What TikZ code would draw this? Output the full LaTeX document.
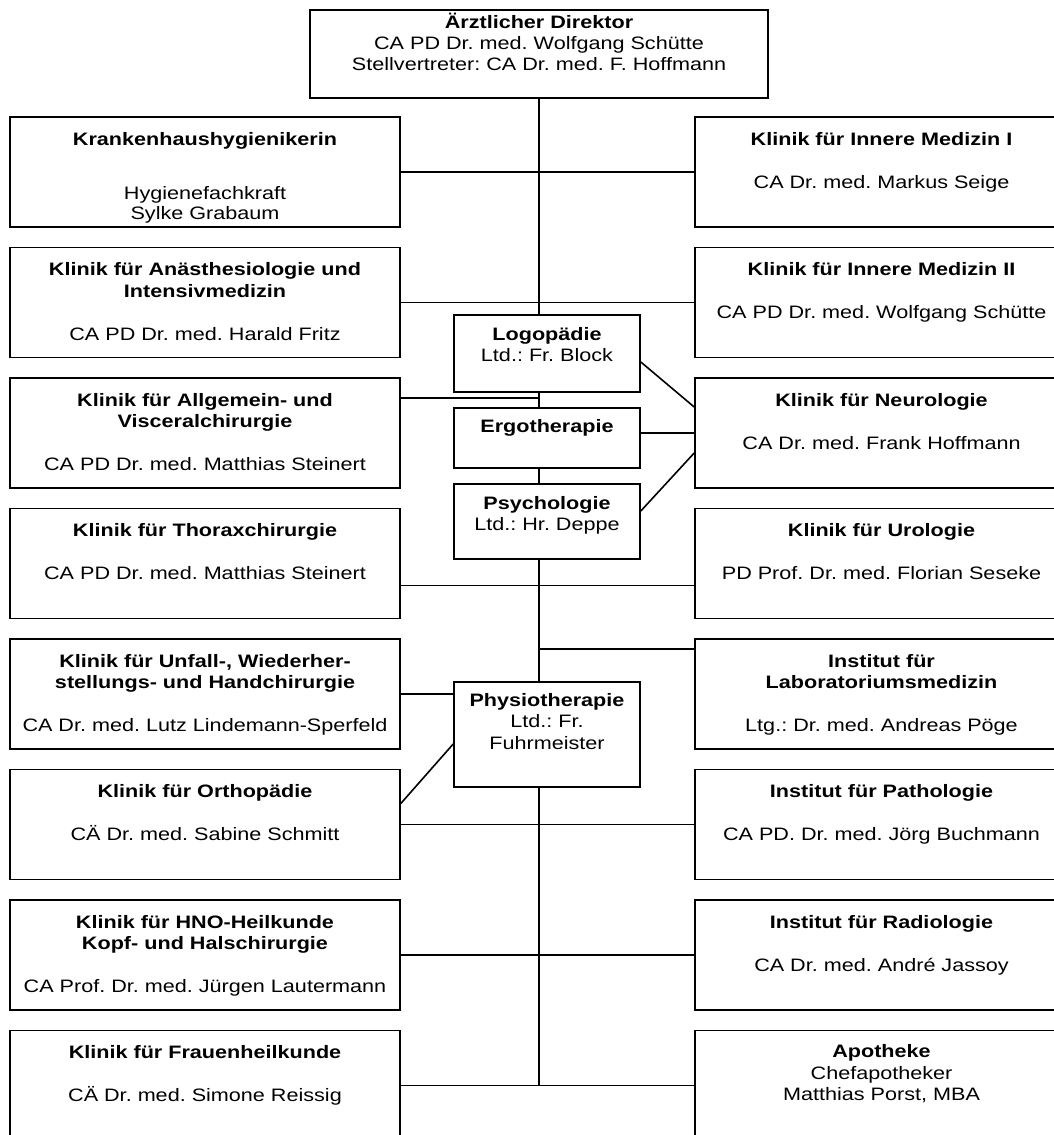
\documentclass[tikz,border=0pt]{standalone}
\usepackage{fontspec}
\setmainfont{Liberation Sans}[FakeStretch=1.2]
\usetikzlibrary{backgrounds}
\frenchspacing

\begin{document}
\begin{tikzpicture}[x=1pt, y=-1pt,
        every node/.style={
            draw, fill=white, line width=1.6pt,
            align=center, anchor=north,
            font=\fontsize{18}{21.5}\selectfont,
            inner xsep=0pt, inner ysep=0pt,
            text height=28.5pt, text depth=81.5pt % boxes of 110
        },
        lbox/.style={text width=390pt},
        rbox/.style={text width=373pt},
        mbox/.style={text width=186pt},
        link/.style={line width=1.6pt}
      ]
        \useasboundingbox (0,0) rectangle (1054,1135);
        \clip (0,0) rectangle (1054,1135);

        \node (dir) [text width=458pt, text height=18.4pt, text depth=69.6pt,
            font=\fontsize{18}{21}\selectfont] at (539,9)
            {\textbf{Ärztlicher Direktor}\\ CA PD Dr. med. Wolfgang Schütte\\ Stellvertreter: CA Dr. med. F. Hoffmann};

        % left column
        \node (hyg) [lbox] at (205,116) {\textbf{Krankenhaushygienikerin}\\[32.5pt] Hygienefachkraft\\[-1.5pt] Sylke Grabaum};
        \node (anae) [lbox] at (205,246.5) {\textbf{Klinik für Anästhesiologie und}\\ \textbf{Intensivmedizin}\\[21.5pt] CA PD Dr. med. Harald Fritz};
        \node (allg) [lbox] at (205,377) {\textbf{Klinik für Allgemein- und}\\ \textbf{Visceralchirurgie}\\[21.5pt] CA PD Dr. med. Matthias Steinert};
        \node (thor) [lbox] at (205,507.5) {\textbf{Klinik für Thoraxchirurgie}\\[21.5pt] CA PD Dr. med. Matthias Steinert};
        \node (unf) [lbox] at (205,638) {\textbf{Klinik für Unfall-, Wiederher-}\\ \textbf{stellungs- und Handchirurgie}\\[21.5pt] CA Dr. med. Lutz Lindemann-Sperfeld};
        \node (orth) [lbox] at (205,768.5) {\textbf{Klinik für Orthopädie}\\[21.5pt] CÄ Dr. med. Sabine Schmitt};
        \node (hno) [lbox] at (205,899) {\textbf{Klinik für HNO-Heilkunde}\\ \textbf{Kopf- und Halschirurgie}\\[21.5pt] CA Prof. Dr. med. Jürgen Lautermann};
        \node (frau) [lbox] at (205,1029.5) {\textbf{Klinik für Frauenheilkunde}\\[21.5pt] CÄ Dr. med. Simone Reissig};

        % right column
        \node (inn1) [rbox] at (881.5,116) {\textbf{Klinik für Innere Medizin I}\\[21.5pt] CA Dr. med. Markus Seige};
        \node (inn2) [rbox] at (881.5,246.5) {\textbf{Klinik für Innere Medizin II}\\[21.5pt] CA PD Dr. med. Wolfgang Schütte};
        \node (neuro) [rbox] at (881.5,377) {\textbf{Klinik für Neurologie}\\[21.5pt] CA Dr. med. Frank Hoffmann};
        \node (uro) [rbox] at (881.5,507.5) {\textbf{Klinik für Urologie}\\[21.5pt] PD Prof. Dr. med. Florian Seseke};
        \node (lab) [rbox] at (881.5,638) {\textbf{Institut für}\\ \textbf{Laboratoriumsmedizin}\\[21.5pt] Ltg.: Dr. med. Andreas Pöge};
        \node (path) [rbox] at (881.5,768.5) {\textbf{Institut für Pathologie}\\[21.5pt] CA PD. Dr. med. Jörg Buchmann};
        \node (rad) [rbox] at (881.5,899) {\textbf{Institut für Radiologie}\\[21.5pt] CA Dr. med. André Jassoy};
        \node (apo) [rbox, text height=27.4pt, text depth=82.6pt] at (881.5,1029.5) {\textbf{Apotheke}\\ Chefapotheker\\ Matthias Porst, MBA};

        % therapies in the middle
        \node (logo) [mbox, text height=25.4pt, text depth=51.6pt] at (547,314) {\textbf{Logopädie}\\ Ltd.: Fr. Block};
        \node (ergo) [mbox, text height=24.4pt, text depth=35.6pt] at (547,407) {\textbf{Ergotherapie}};
        \node (psy) [mbox, text height=25.4pt, text depth=49.6pt] at (547,483) {\textbf{Psychologie}\\ Ltd.: Hr. Deppe};
        \node (phys) [mbox, text height=24.4pt, text depth=80.6pt] at (547,681) {\textbf{Physiotherapie}\\ Ltd.: Fr.\\ Fuhrmeister};

        \begin{scope}[on background layer]
          \draw[link] (dir.south) -- (dir.south |- frau.east);
          \draw[link] (hyg.east) -- (inn1.west);
          \draw[link] (anae.east) -- (inn2.west);
          \draw[link] ([yshift=-21pt]allg.north east) coordinate (a1) -- (a1 -| dir.south);
          \draw[link] ([yshift=-78pt]thor.north east) -- ([yshift=-78pt]uro.north west);
          \draw[link] (unf.east) -- (unf.east -| phys.west);
          \draw[link] ([yshift=-11pt]lab.north west) coordinate (l1) -- (l1 -| dir.south);
          \draw[link] (orth.east) -- (path.west);
          \draw[link] (hno.east) -- (rad.west);
          \draw[link] (frau.east) -- (apo.west);
          % to Neurologie
          \draw[link] ([yshift=-48pt]logo.north east) -- ([yshift=-30pt]neuro.north west);
          \draw[link] (neuro.west) -- (neuro.west -| ergo.east);
          \draw[link] ([yshift=-28pt]psy.north east) -- ([yshift=-76pt]neuro.north west);
          \draw[link] ([yshift=-35pt]orth.north east) -- ([yshift=-63pt]phys.north west);
        \end{scope}
      \end{tikzpicture}
\end{document}
